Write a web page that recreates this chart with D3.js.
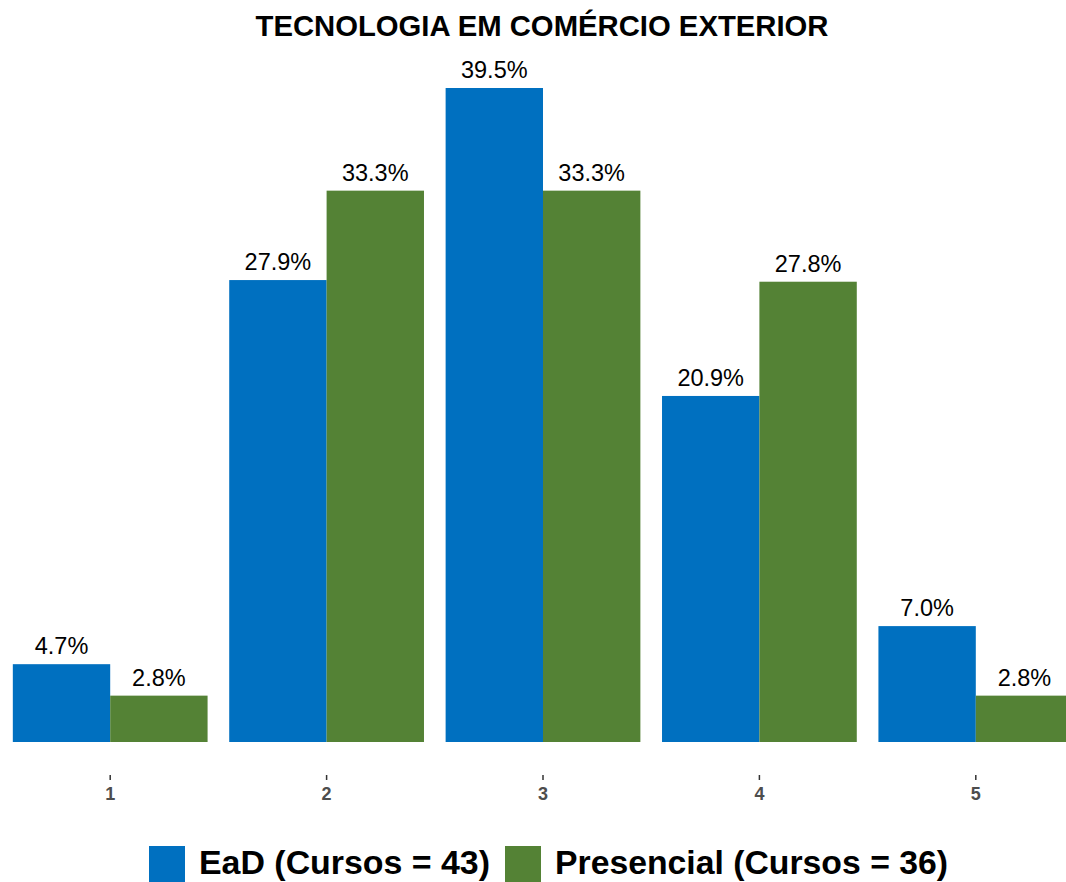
<!DOCTYPE html>
<html><head><meta charset="utf-8">
<script src="https://cdn.jsdelivr.net/npm/d3@7"></script>
<style>body{margin:0;background:#fff}svg{display:block}</style>
</head><body><svg id="c" width="1066" height="882"></svg>
<script>
const categories = ["1","2","3","4","5"];
const seriesNames = ["EaD (Cursos = 43)","Presencial (Cursos = 36)"];
const eadValues = [4.7, 27.9, 39.5, 20.9, 7.0];
const presencialValues = [2.8, 33.3, 33.3, 27.8, 2.8];
const colors = ["#0070C0", "#548235"];
const title = "TECNOLOGIA EM COMÉRCIO EXTERIOR";

const svg = d3.select("#c");
const data = categories.map((c,i)=>({cat:c, vals:[eadValues[i], presencialValues[i]]}));

const x = d3.scaleBand().domain(categories).range([2, 1084]).paddingInner(0.1).paddingOuter(0.05);
const xs = d3.scaleBand().domain([0,1]).range([0, x.bandwidth()]);
const y = d3.scaleLinear().domain([0, 39.5]).range([742, 88]);

const g = svg.append("g");
data.forEach(d=>{
  const gg = g.append("g").attr("transform", `translate(${x(d.cat)},0)`);
  gg.selectAll("rect").data(d.vals).join("rect")
    .attr("x",(v,i)=>xs(i)).attr("width", xs.bandwidth())
    .attr("y", v=>y(v)).attr("height", v=>y(0)-y(v))
    .attr("fill",(v,i)=>colors[i]);
  gg.selectAll("text").data(d.vals).join("text")
    .attr("x",(v,i)=>xs(i)+xs.bandwidth()/2).attr("y", v=>y(v)-10)
    .attr("text-anchor","middle").attr("font-family","Liberation Sans, Arial, sans-serif")
    .attr("font-size",23.5).attr("fill","#000")
    .text(v=>v.toFixed(1)+"%");
});

const xAxis = d3.axisBottom(x).tickSize(5).tickPadding(7);
const ax = svg.append("g").attr("transform","translate(0,775)").call(xAxis);
ax.select(".domain").remove();
ax.selectAll(".tick line").attr("stroke","#333").attr("stroke-width",1.5);
ax.selectAll(".tick text").attr("font-family","Liberation Sans, Arial, sans-serif")
  .style("font-size","18px").attr("font-weight","bold").attr("fill","#4d4d4d");

svg.append("text").attr("x",542).attr("y",36).attr("text-anchor","middle")
  .attr("font-family","Liberation Sans, Arial, sans-serif").attr("font-weight","bold")
  .attr("font-size",30).attr("textLength",573).attr("lengthAdjust","spacingAndGlyphs")
  .text(title);

const legend = [
  {sx:149, tx:199, tw:291},
  {sx:505, tx:555, tw:393}
];
legend.forEach((l,i)=>{
  svg.append("rect").attr("x",l.sx).attr("y",846).attr("width",36).attr("height",36).attr("fill",colors[i]);
  svg.append("text").attr("x",l.tx).attr("y",874)
    .attr("font-family","Liberation Sans Narrow, Liberation Sans, Arial, sans-serif").attr("font-weight","bold")
    .attr("font-size",33).attr("textLength",l.tw).attr("lengthAdjust","spacingAndGlyphs")
    .text(seriesNames[i]);
});
</script></body></html>
